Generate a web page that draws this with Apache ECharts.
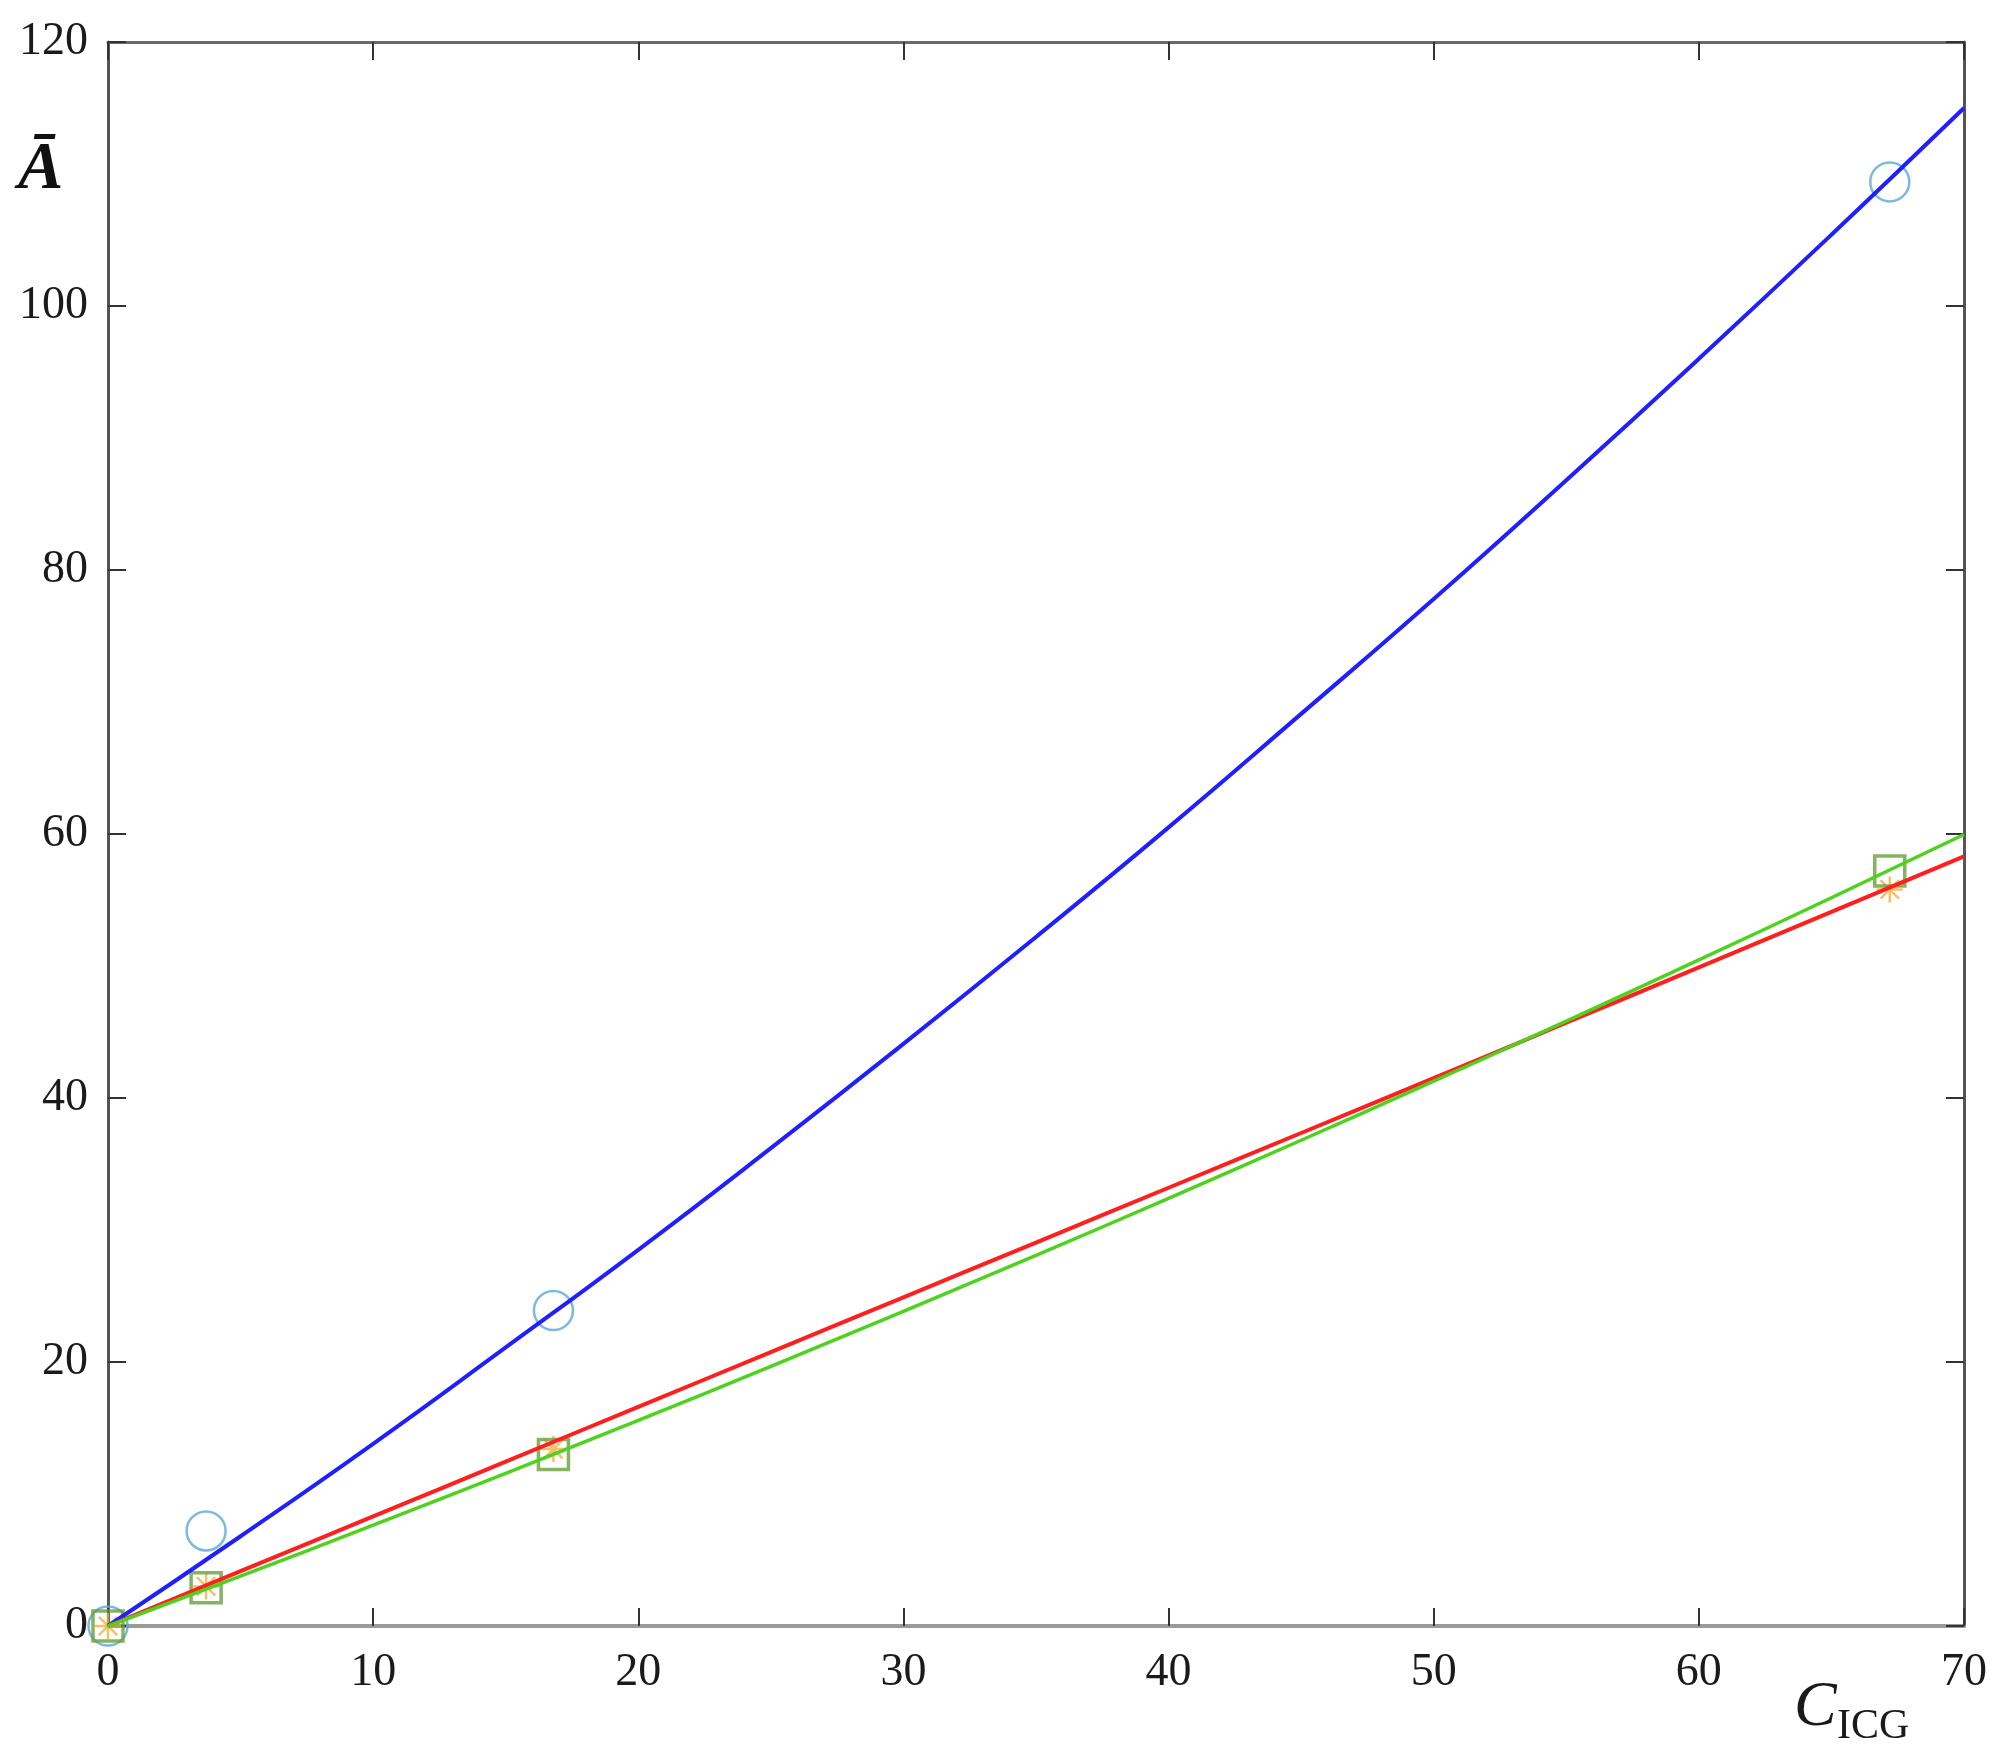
<!DOCTYPE html>
<html>
<head>
<meta charset="utf-8">
<script src="https://cdn.jsdelivr.net/npm/echarts@6/dist/echarts.min.js"></script>
<style>
html,body{margin:0;padding:0;background:#fff;}
#chart{width:2001px;height:1759px;}
</style>
</head>
<body>
<div id="chart"></div>
<script>
// Fitted curves
const xFit = [0, 5, 10, 15, 20, 25, 30, 35, 40, 45, 50, 55, 60, 65, 70];
const blueFit = [0, 6.8, 13.8, 21.1, 28.5, 36.2, 44.1, 52.2, 60.5, 69.1, 77.8, 86.8, 96.0, 105.4, 115.0];
const redFit = [0, 4.15, 8.3, 12.45, 16.6, 20.75, 24.9, 29.05, 33.2, 37.35, 41.5, 45.7, 49.9, 54.1, 58.3];
const greenFit = [0, 3.78, 7.64, 11.57, 15.58, 19.67, 23.84, 28.08, 32.40, 36.80, 41.28, 45.83, 50.46, 55.17, 59.96];

// Measured points
const xMeas = [0, 3.7, 16.8, 67.2];
const circleY = [0, 7.2, 23.9, 109.4];
const squareY = [0, 2.9, 13.0, 57.2];
const starY = [0, 3.0, 13.4, 55.8];

const xTicks = [0, 10, 20, 30, 40, 50, 60, 70];
const yTicks = [0, 20, 40, 60, 80, 100, 120];

const pair = (xs, ys) => xs.map((x, i) => [x, ys[i]]);
const FONT = '"Liberation Serif", "DejaVu Serif", serif';

const chart = echarts.init(document.getElementById('chart'), null, {renderer: 'canvas'});

const starPath = 'path://M0,-10L0,10M-10,0L10,0M-7.07,-7.07L7.07,7.07M-7.07,7.07L7.07,-7.07';

const axisCommon = {
  type: 'value',
  splitLine: {show: false},
  axisTick: {show: true, inside: true, length: 18, lineStyle: {color: '#333', width: 2}},
};

chart.setOption({
  animation: false,
  backgroundColor: '#fff',
  grid: {left: 108, right: 37, top: 42, bottom: 133, containLabel: false},
  xAxis: [
    Object.assign({}, axisCommon, {
      position: 'bottom', min: xTicks[0], max: xTicks[xTicks.length - 1], interval: 10,
      axisLine: {show: true, onZero: false, lineStyle: {color: '#9a9a9a', width: 4}},
      axisLabel: {show: true, margin: 24, fontFamily: FONT, fontSize: 46, color: '#1a1a1a'}
    }),
    Object.assign({}, axisCommon, {
      position: 'top', min: xTicks[0], max: xTicks[xTicks.length - 1], interval: 10,
      axisLine: {show: true, onZero: false, lineStyle: {color: '#6a6a6a', width: 3}},
      axisLabel: {show: false}
    })
  ],
  yAxis: [
    Object.assign({}, axisCommon, {
      position: 'left', min: yTicks[0], max: yTicks[yTicks.length - 1], interval: 20,
      axisLine: {show: true, onZero: false, lineStyle: {color: '#555', width: 3}},
      axisLabel: {show: true, margin: 20, fontFamily: FONT, fontSize: 46, color: '#1a1a1a'}
    }),
    Object.assign({}, axisCommon, {
      position: 'right', min: yTicks[0], max: yTicks[yTicks.length - 1], interval: 20,
      axisLine: {show: true, onZero: false, lineStyle: {color: '#555', width: 3}},
      axisLabel: {show: false}
    })
  ],
  series: [
    {
      type: 'scatter', data: pair(xMeas, circleY), symbol: 'circle', symbolSize: 39,
      clip: false, z: 2,
      itemStyle: {color: 'rgba(0,0,0,0)', borderColor: '#5ba8da', borderWidth: 2.5}
    },
    {
      type: 'scatter', data: pair(xMeas, starY), symbol: starPath, symbolSize: 26,
      clip: false, z: 2,
      itemStyle: {color: 'rgba(0,0,0,0)', borderColor: '#f2b140', borderWidth: 2.5}
    },
    {
      type: 'scatter', data: pair(xMeas, squareY), symbol: 'rect', symbolSize: 30,
      clip: false, z: 2,
      itemStyle: {color: 'rgba(0,0,0,0)', borderColor: '#67a03a', borderWidth: 3.5}
    },
    {
      type: 'line', data: pair(xFit, blueFit), showSymbol: false, smooth: true, z: 3,
      lineStyle: {color: '#1f1fff', width: 4}
    },
    {
      type: 'line', data: pair(xFit, redFit), showSymbol: false, smooth: true, z: 3,
      lineStyle: {color: '#ff1f1f', width: 4}
    },
    {
      type: 'line', data: pair(xFit, greenFit), showSymbol: false, smooth: true, z: 4,
      lineStyle: {color: '#4fd21e', width: 3.5}
    }
  ],
  graphic: [
    {
      type: 'text', left: 18, top: 136, z: 10,
      style: {text: 'Ā', font: 'italic bold 68px ' + FONT, fill: '#111'}
    },
    {
      type: 'text', left: 1794, top: 1676, z: 10,
      style: {text: 'C', font: 'italic 64px ' + FONT, fill: '#1a1a1a'}
    },
    {
      type: 'text', left: 1837, top: 1706, z: 10,
      style: {text: 'ICG', font: '42px ' + FONT, fill: '#1a1a1a'}
    }
  ]
});
</script>
</body>
</html>
